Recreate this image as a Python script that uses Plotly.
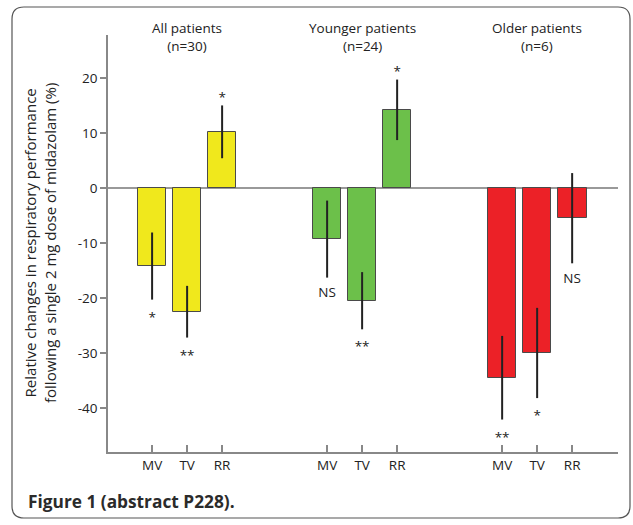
import plotly.graph_objects as go

# data
groups = ['All patients<br>(n=30)', 'Younger patients<br>(n=24)', 'Older patients<br>(n=6)']
measures = ['MV', 'TV', 'RR']
colors = ['#F0E81C', '#6CC04A', '#EC2127']

all_vals = [-14.2, -22.5, 10.2]
all_err = [6.1, 4.7, 4.8]
all_sig = ['*', '**', '*']

young_vals = [-9.3, -20.5, 14.2]
young_err = [7.0, 5.2, 5.5]
young_sig = ['NS', '**', '*']

old_vals = [-34.5, -30.0, -5.5]
old_err = [7.6, 8.2, 8.2]
old_sig = ['**', '*', 'NS']

values = [all_vals, young_vals, old_vals]
errors = [all_err, young_err, old_err]
sigs = [all_sig, young_sig, old_sig]

# body margin is removed in post_script, so page pixels == figure pixels
W, H = 633, 525
L, R, T, B = 108, 618, 35, 452

def px(x):
    return (x - L) / (R - L)

def py(y):
    return (B - y) / (B - T)

fig = go.Figure()

tickvals, ticktext = [], []
sx, sy, st = [], [], []
for g in range(3):
    xs = [g * 5 + m for m in range(3)]
    tickvals += xs
    ticktext += measures
    fig.add_trace(go.Bar(
        x=xs, y=values[g], width=0.82,
        marker=dict(color=colors[g], line=dict(color='#4a4a4a', width=1)),
        error_y=dict(type='data', array=errors[g], color='#222222', thickness=2, width=0),
        showlegend=False, hoverinfo='skip'
    ))
    for m in range(3):
        v, e, s = values[g][m], errors[g][m], sigs[g][m]
        sx.append(xs[m])
        if s == 'NS':
            sy.append(v - e - 3.0)
        elif v < 0:
            sy.append(v - e - 3.4)
        else:
            sy.append(v + e + 1.2)
        st.append(s)
    fig.add_annotation(x=xs[1], y=1.0, yref='paper', text=groups[g], showarrow=False,
                       yanchor='bottom', yshift=-22,
                       font=dict(size=13.5, color='#222222'))

fig.add_trace(go.Scatter(x=sx, y=sy, text=st, mode='text', showlegend=False,
                         textfont=dict(size=13.5, color='#222222'), hoverinfo='skip'))

# rounded frame around the whole figure
x0, y0, x1, y1, r = 12, 7, 630, 518, 12
path = (f"M {px(x0 + r)},{py(y0)} L {px(x1 - r)},{py(y0)} Q {px(x1)},{py(y0)} {px(x1)},{py(y0 + r)} "
        f"L {px(x1)},{py(y1 - r)} Q {px(x1)},{py(y1)} {px(x1 - r)},{py(y1)} "
        f"L {px(x0 + r)},{py(y1)} Q {px(x0)},{py(y1)} {px(x0)},{py(y1 - r)} "
        f"L {px(x0)},{py(y0 + r)} Q {px(x0)},{py(y0)} {px(x0 + r)},{py(y0)} Z")
fig.add_shape(type='path', path=path, xref='paper', yref='paper',
              line=dict(color='#555555', width=1.2), layer='above')

fig.add_annotation(x=px(40), y=py(243), xref='paper', yref='paper', textangle=-90,
                   xanchor='center', yanchor='middle',
                   text='Relative changes in respiratory performance<br>following a single 2 mg dose of midazolam (%)',
                   showarrow=False, font=dict(size=15, color='#222222'))

fig.add_annotation(x=px(26), y=py(501), xref='paper', yref='paper', xanchor='left', yanchor='middle',
                   text='<b>Figure 1 (abstract P228).</b>', showarrow=False,
                   font=dict(family='Open Sans', size=17.3, color='#2b2b2b'))

ytv = [-40, -30, -20, -10, 0, 10, 20]
fig.update_layout(
    width=W, height=H,
    margin=dict(l=L, r=W - R, t=T, b=H - B),
    paper_bgcolor='white', plot_bgcolor='white',
    font=dict(family='Open Sans', color='#222222'),
    bargap=0,
    xaxis=dict(range=[-1.26, 13.31], tickvals=tickvals, ticktext=ticktext,
               showline=True, linecolor='#888888', linewidth=1.5,
               ticks='inside', ticklen=7, tickcolor='#888888', tickwidth=1.5,
               showgrid=False, zeroline=False, tickfont=dict(size=13.5, color='#222222')),
    yaxis=dict(range=[-48, 27.8], tickvals=ytv, ticktext=[str(v) for v in ytv],
               showline=True, linecolor='#888888', linewidth=1.5,
               ticks='outside', ticklen=6, tickcolor='#888888', tickwidth=1.5,
               showgrid=False, zeroline=True, zerolinecolor='#999999', zerolinewidth=1.5,
               tickfont=dict(size=13.5, color='#222222')),
)

fig.write_html('out.html', config={'displayModeBar': False},
               post_script="document.body.style.margin='0';document.body.style.overflow='hidden';")
